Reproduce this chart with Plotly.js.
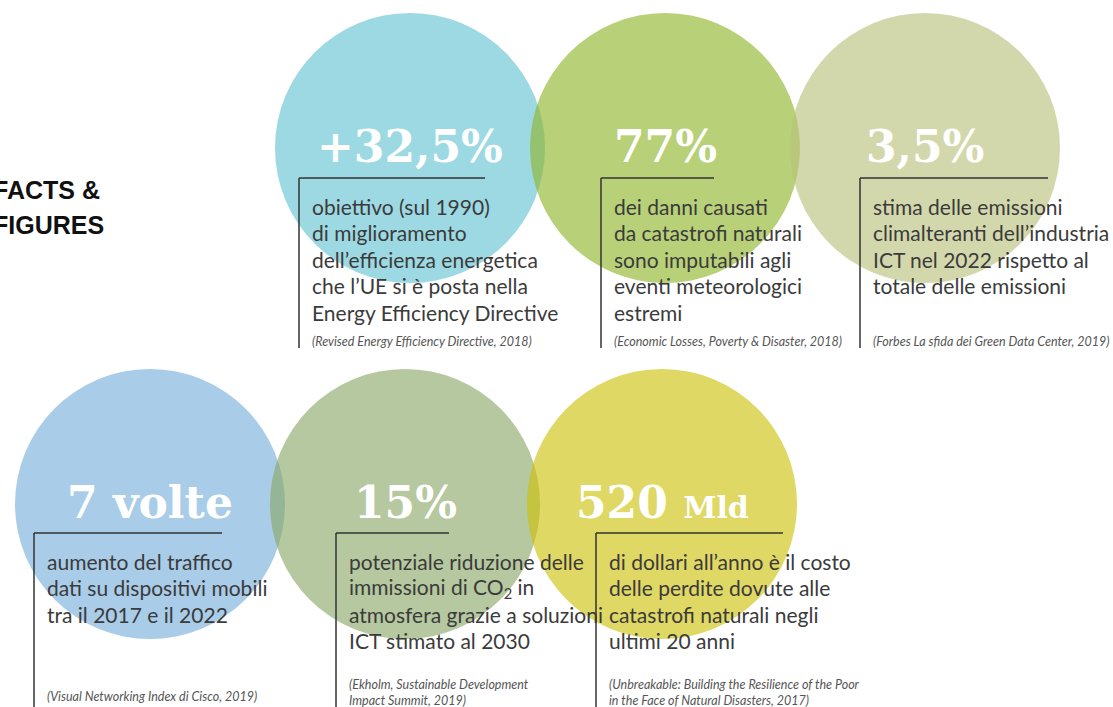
<!DOCTYPE html>
<html>
<head>
<meta charset="utf-8">
<script src="https://cdn.plot.ly/plotly-3.0.1.min.js"></script>
<style>
  html, body { margin: 0; padding: 0; background: #ffffff; }
  #chart { width: 1113px; height: 707px; }
</style>
</head>
<body>
<div id="chart"></div>
<script>
// facts & figures - dati
var statLabels = ['+32,5%', '77%', '3,5%', '7 volte', '15%', '520 <span style="font-size:30px">Mld</span>'];
var circleX = [410, 665, 925, 150, 405, 662];
var circleY = [148, 148, 148, 504, 504, 504];
var circleR = 135;
var circleColors = ['rgb(100,195,211)', 'rgb(142,181,41)', 'rgb(185,193,124)',
                    'rgb(119,174,218)', 'rgb(138,168,103)', 'rgb(204,193,10)'];

var descriptions = [
  ['obiettivo (sul 1990)', 'di miglioramento', 'dell\u2019efficienza energetica', 'che l\u2019UE si è posta nella', 'Energy Efficiency Directive'],
  ['dei danni causati', 'da catastrofi naturali', 'sono imputabili agli', 'eventi meteorologici', 'estremi'],
  ['stima delle emissioni', 'climalteranti dell\u2019industria', 'ICT nel 2022 rispetto al', 'totale delle emissioni'],
  ['aumento del traffico', 'dati su dispositivi mobili', 'tra il 2017 e il 2022'],
  ['potenziale riduzione delle', 'immissioni di CO<sub>2</sub> in', 'atmosfera grazie a soluzioni', 'ICT stimato al 2030'],
  ['di dollari all\u2019anno è il costo', 'delle perdite dovute alle', 'catastrofi naturali negli', 'ultimi 20 anni']
];
var sources = [
  ['(Revised Energy Efficiency Directive, 2018)'],
  ['(Economic Losses, Poverty & Disaster, 2018)'],
  ['(Forbes La sfida dei Green Data Center, 2019)'],
  ['(Visual Networking Index di Cisco, 2019)'],
  ['(Ekholm, Sustainable Development', 'Impact Summit, 2019)'],
  ['(Unbreakable: Building the Resilience of the Poor', 'in the Face of Natural Disasters, 2017)']
];
var ruleX = [299, 601, 860, 34, 336, 596];
var ruleW = [186, 113, 188, 188, 113, 187];
var titleLines = ['FACTS &', 'FIGURES'];

function buildChart() {
  var shapes = [];
  var annotations = [];
  var textColor = '#3b3b3b';

  for (var i = 0; i < statLabels.length; i++) {
    var top = i < 3;
    // cerchio
    shapes.push({
      type: 'circle', xref: 'x', yref: 'y', layer: 'below',
      x0: circleX[i] - circleR, x1: circleX[i] + circleR,
      y0: circleY[i] - circleR, y1: circleY[i] + circleR,
      fillcolor: circleColors[i], opacity: 0.63,
      line: { width: 0 }
    });

    var ruleY = top ? 178 : 533;
    var ruleEnd = top ? 348 : 707;
    shapes.push({
      type: 'line', xref: 'x', yref: 'y', layer: 'above',
      x0: ruleX[i], x1: ruleX[i] + ruleW[i], y0: ruleY, y1: ruleY,
      line: { color: '#333333', width: 1.5 }
    });
    shapes.push({
      type: 'line', xref: 'x', yref: 'y', layer: 'above',
      x0: ruleX[i], x1: ruleX[i], y0: ruleY, y1: ruleEnd,
      line: { color: '#333333', width: 1.5 }
    });

    // numero grande
    annotations.push({
      x: circleX[i], y: circleY[i] - 2, xref: 'x', yref: 'y',
      text: statLabels[i], showarrow: false,
      xanchor: 'center', yanchor: 'middle',
      font: { family: 'DejaVu Serif', size: 44, color: '#ffffff', weight: 'bold' }
    });

    // descrizione
    var firstY = top ? 206 : 561;
    for (var j = 0; j < descriptions[i].length; j++) {
      annotations.push({
        x: ruleX[i] + 11, y: firstY + j * 26.5, xref: 'x', yref: 'y',
        text: descriptions[i][j], showarrow: false,
        xanchor: 'left', yanchor: 'middle',
        font: { family: 'Lato', size: 21, color: textColor }
      });
    }

    // fonte
    var srcY = top ? 341 : (sources[i].length > 1 ? 684 : 696);
    for (var k = 0; k < sources[i].length; k++) {
      annotations.push({
        x: ruleX[i] + 11, y: srcY + k * 16, xref: 'x', yref: 'y',
        text: sources[i][k], showarrow: false,
        xanchor: 'left', yanchor: 'middle',
        font: { family: 'Lato', size: 12.5, color: '#555555', style: 'italic' }
      });
    }
  }

  // titolo a sinistra, tagliato dal bordo come nell'originale
  for (var t = 0; t < titleLines.length; t++) {
    annotations.push({
      x: 0, xshift: -9, y: 190 + t * 35, xref: 'x', yref: 'y',
      text: titleLines[t], showarrow: false,
      xanchor: 'left', yanchor: 'middle',
      font: { family: 'Liberation Sans', size: 25, color: '#111111', weight: 'bold' }
    });
  }

  var layout = {
    width: 1113, height: 707,
    margin: { l: 0, r: 0, t: 0, b: 0 },
    paper_bgcolor: '#ffffff', plot_bgcolor: '#ffffff',
    xaxis: { range: [0, 1113], visible: false, fixedrange: true },
    yaxis: { range: [707, 0], visible: false, fixedrange: true },
    showlegend: false,
    shapes: shapes,
    annotations: annotations
  };

  Plotly.newPlot('chart', [{ x: [], y: [], type: 'scatter', hoverinfo: 'skip' }], layout, {
    displayModeBar: false,
    staticPlot: true
  });
}

buildChart();
</script>
</body>
</html>
